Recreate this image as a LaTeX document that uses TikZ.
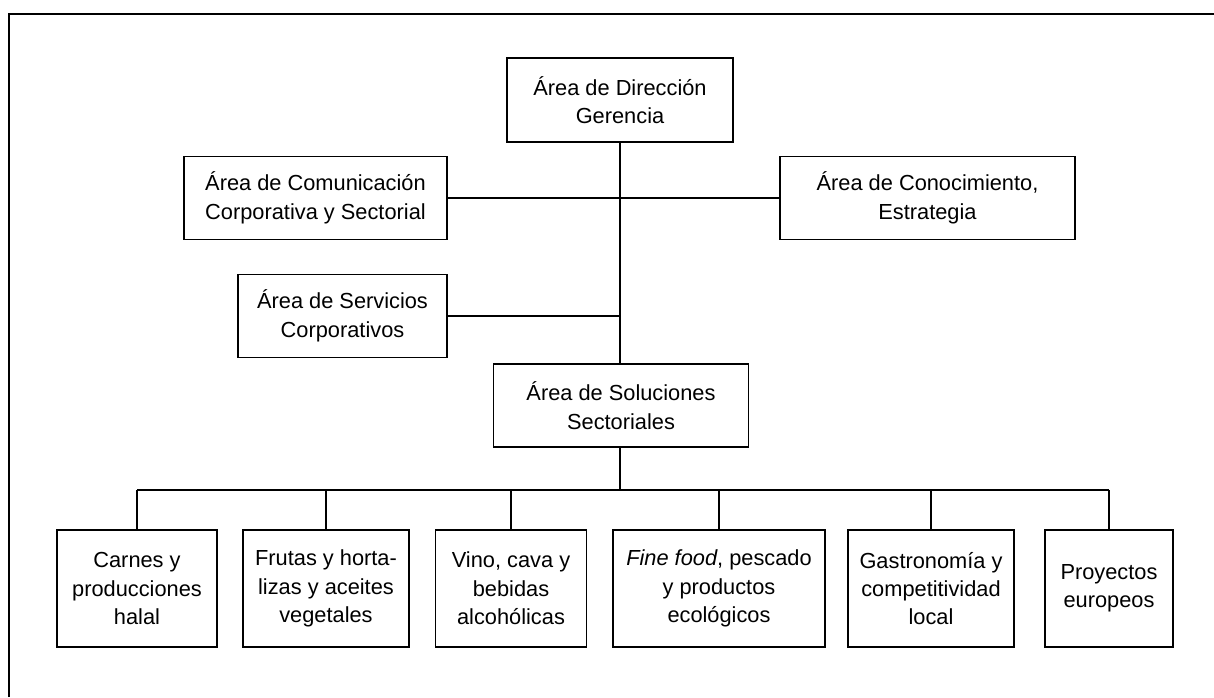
\documentclass[tikz,border=0pt]{standalone}
\usepackage{fontspec}
\setmainfont{Liberation Sans}
\usepackage{tikz}
\usetikzlibrary{positioning}

\tikzset{
  unit/.style={draw, line width=0.6pt, align=center, inner sep=0pt,
    font=\fontsize{10.9}{14.2}\selectfont},
  link/.style={line width=0.6pt},
}

\begin{document}
\begin{tikzpicture}[x=0.5pt, y=-0.5pt]
  \useasboundingbox (0,0) rectangle (1214,697);
  \draw[line width=1pt] (9,697) -- (9,14) -- (1214,14);

  % upper levels
  \node (dir) [unit, minimum width=113pt, minimum height=42pt] at (620,100)   {Área de Dirección\\Gerencia};
  \node (com) [unit, minimum width=131.5pt, minimum height=41.5pt] at (315.5,198) {Área de Comunicación\\Corporativa y Sectorial};
  \node (con) [unit, minimum width=147.5pt, minimum height=41.5pt] at (927.5,198) {Área de Conocimiento,\\Estrategia};
  \node (ser) [unit, minimum width=104.5pt, minimum height=41.5pt] at (342.5,316) {Área de Servicios\\Corporativos};
  \node (sol) [unit, minimum width=127.5pt, minimum height=41.5pt] at (621,405.5) {Área de Soluciones\\Sectoriales};

  % sectors
  \node (b1) [unit, minimum width=80pt, minimum height=58.5pt]  at (137,588.5)  {Carnes y\\producciones\\halal};
  \node (b2) [unit, minimum width=83pt, minimum height=58.5pt]  at (326,588.5)  {Frutas y horta-\\lizas y aceites\\vegetales};
  \node (b3) [unit, minimum width=75.5pt, minimum height=58.5pt] at (511,588.5) {Vino, cava y\\bebidas\\alcohólicas};
  \node (b4) [unit, minimum width=106pt, minimum height=58.5pt] at (719,588.5)  {\textit{Fine food}, pescado\\y productos\\ecológicos};
  \node (b5) [unit, minimum width=83pt, minimum height=58.5pt]  at (931,588.5)  {Gastronomía y\\competitividad\\local};
  \node (b6) [unit, minimum width=64pt, minimum height=58.5pt]  at (1109,588.5) {Proyectos\\europeos};

  \coordinate (bus) at (620,490);

  % connectors
  \draw[link] (dir.south) -- (sol.north -| dir.south);
  \draw[link] (com.east) -- (con.west);
  \draw[link] (ser.east) -- (ser.east -| dir.south);
  \draw[link] (sol.south -| dir.south) -- (bus);
  \draw[link] (b1.north |- bus) -- (b6.north |- bus);
  \foreach \b in {b1,b2,b3,b4,b5,b6}
    \draw[link] (\b.north) -- (\b.north |- bus);
\end{tikzpicture}
\end{document}
